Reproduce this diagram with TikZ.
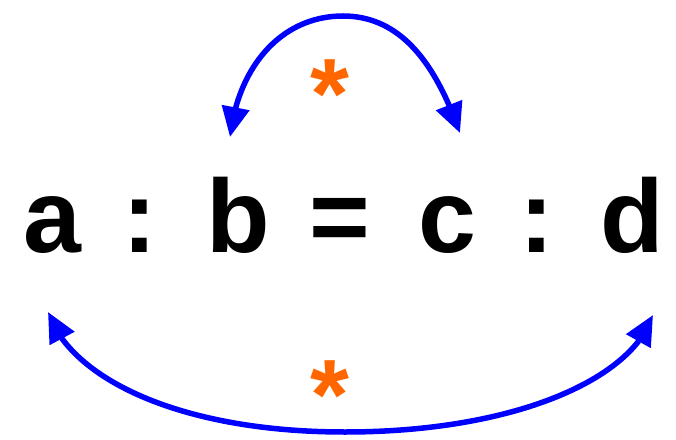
\documentclass[tikz,border=0pt]{standalone}
\usepackage{fontspec}
\setmainfont{Liberation Sans}
\usetikzlibrary{arrows.meta,bending}
\definecolor{arcblue}{HTML}{0000FF}
\definecolor{astor}{HTML}{FF6600}
\begin{document}
\begin{tikzpicture}[x=1pt,y=1pt,
  term/.style={anchor=base,inner sep=0pt,font=\fontsize{104}{110}\selectfont\bfseries},
  star/.style={anchor=base,inner sep=0pt,text=astor,font=\fontsize{100}{110}\selectfont\bfseries},
  arcline/.style={draw=arcblue,line width=5.5pt,{Triangle[length=30pt,width=27pt]}-{Triangle[length=30pt,width=27pt]}}]
\useasboundingbox (0,0) rectangle (676,439);
\node[term] (a) at (52,186) {a};
\node[term] (c1) at (140,186) {:};
\node[term] (b) at (238,186) {b};
\node[term] (eq) at (340,186) {=};
\node[term] (c) at (447,186) {c};
\node[term] (c2) at (537,186) {:};
\node[term] (d) at (632,186) {d};
\node[star] (s1) at (330,310) {*};
\node[star] (s2) at (330,10) {*};
\coordinate (tl) at (230,302);
\coordinate (tp) at (343,423);
\coordinate (tr) at (460,306);
\coordinate (bl) at (48,127);
\coordinate (bt) at (345,7);
\coordinate (br) at (653,124);
\draw[arcline] (tl) .. controls +(8,70) and +(-62,0) .. (tp) .. controls +(62,0) and +(-22,62) .. (tr);
\draw[arcline] (bl) .. controls +(22,-66) and +(-166,0) .. (bt) .. controls +(166,0) and +(-22,-66) .. (br);
\end{tikzpicture}
\end{document}
